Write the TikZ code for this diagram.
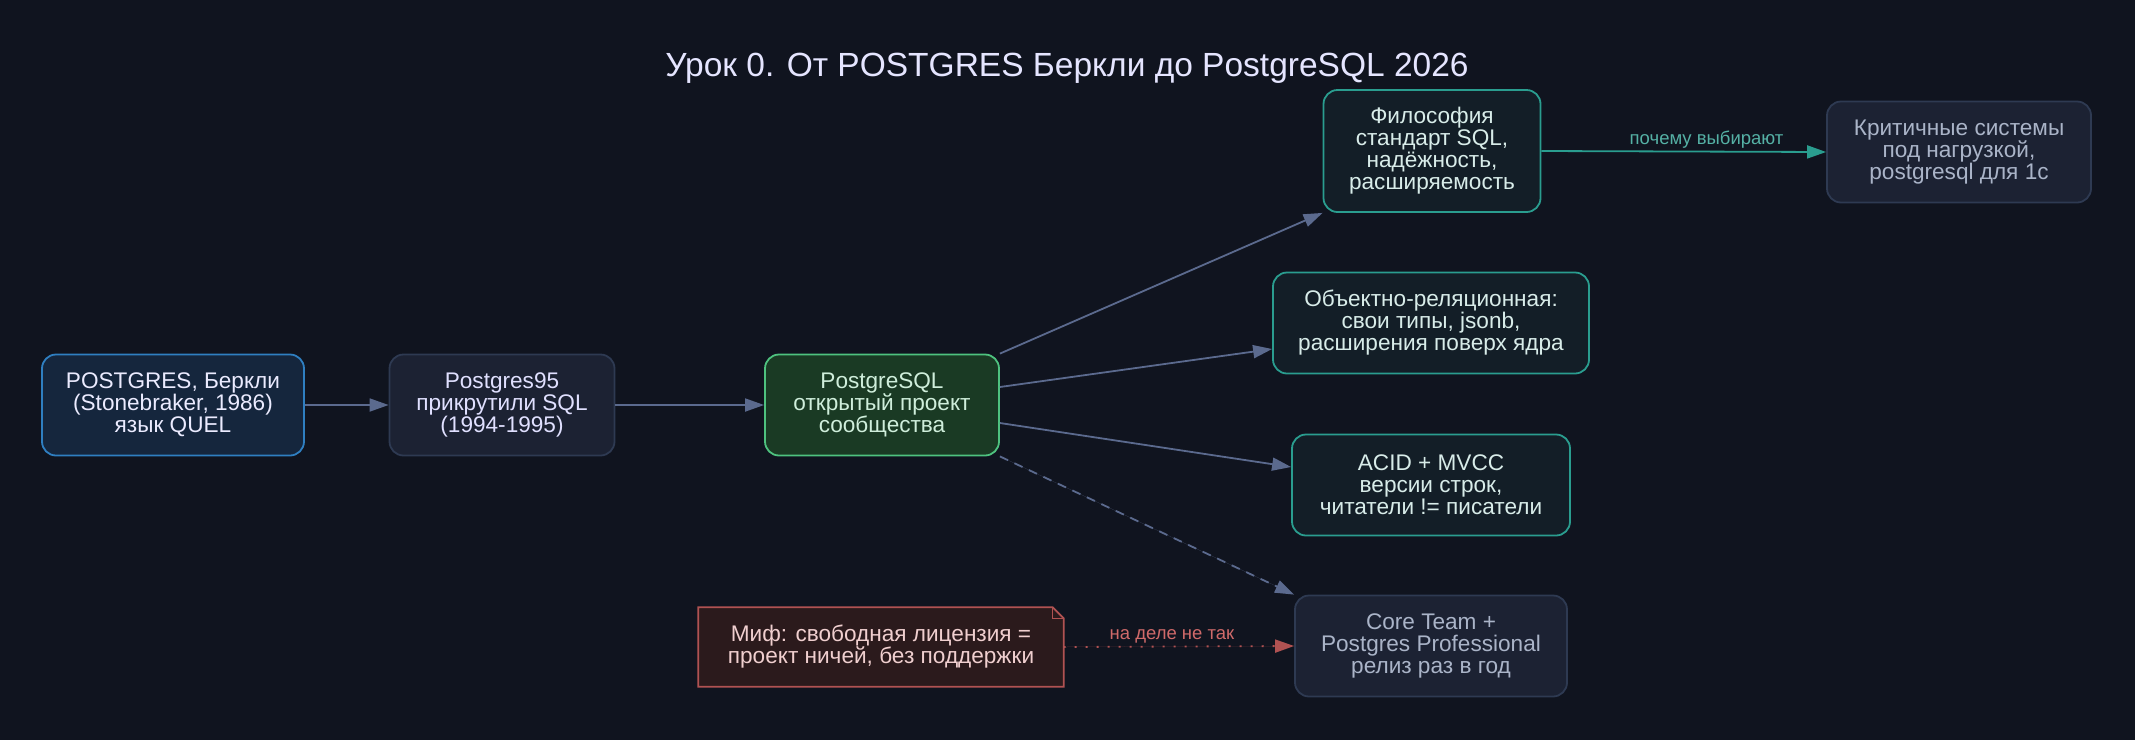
\documentclass[tikz,border=0pt]{standalone}
\usepackage{fontspec}
\setmainfont{Liberation Sans}
\usetikzlibrary{arrows.meta}
\definecolor{bgdark}{HTML}{10141F}
\definecolor{edgegrey}{HTML}{5B6A8E}
\definecolor{tealline}{HTML}{2A9D8F}
\definecolor{tealfill}{HTML}{131E27}
\definecolor{tealtext}{HTML}{D8ECE9}
\definecolor{slatefill}{HTML}{1C2233}
\definecolor{slateline}{HTML}{2E3A52}
\definecolor{slatetext}{HTML}{AAB4C8}
\definecolor{bluefill}{HTML}{15263D}
\definecolor{blueline}{HTML}{2F7FC1}
\definecolor{greenfill}{HTML}{1A3A24}
\definecolor{greenline}{HTML}{4EC27F}
\definecolor{greentext}{HTML}{CFEEDB}
\definecolor{mythfill}{HTML}{2B1A1C}
\definecolor{mythline}{HTML}{B05252}
\definecolor{mythtext}{HTML}{F0CFCF}
\definecolor{mythlabel}{HTML}{D06A6A}
\begin{document}
\begin{tikzpicture}[x=1pt,y=-1pt,>={Triangle[length=19pt,width=13pt]},
  box/.style={rounded corners=14pt,line width=1.8pt,align=center,inner sep=0pt,
    minimum height=101pt,font=\fontsize{22.6}{22}\selectfont},
  bluebox/.style={box,draw=blueline,fill=bluefill,text=white!92!blue},
  slatebox/.style={box,draw=slateline,fill=slatefill,text=white!88!blue},
  greybox/.style={box,draw=slateline,fill=slatefill,text=slatetext},
  greenbox/.style={box,draw=greenline,fill=greenfill,text=greentext},
  tealbox/.style={box,draw=tealline,fill=tealfill,text=tealtext},
  edge/.style={->,draw=edgegrey,fill=edgegrey,line width=1.8pt},
  elabel/.style={font=\fontsize{18.5}{20}\selectfont,inner sep=2pt}]
\fill[bgdark] (0,0) rectangle (2135,740);
\useasboundingbox (0,0) rectangle (2135,740);
\node[text=white!90!blue,font=\fontsize{33.5}{38}\selectfont] (title) at (1067,68)
  {Урок 0. От POSTGRES Беркли до PostgreSQL 2026};
% timeline
\node[bluebox,minimum width=262pt] (berkeley) at (173,405)
  {POSTGRES, Беркли\\(Stonebraker, 1986)\\язык QUEL};
\node[slatebox,minimum width=225pt] (pg95) at (502,405)
  {Postgres95\\прикрутили SQL\\(1994-1995)};
\node[greenbox,minimum width=234pt] (pgsql) at (882,405)
  {PostgreSQL\\открытый проект\\сообщества};
% traits
\node[tealbox,minimum width=217pt,minimum height=122pt] (philo) at (1432,151)
  {Философия\\стандарт SQL,\\надёжность,\\расширяемость};
\node[greybox,minimum width=264pt] (critical) at (1959,152)
  {Критичные системы\\под нагрузкой,\\postgresql для 1с};
\node[tealbox,minimum width=316pt] (objrel) at (1431,323)
  {Объектно-реляционная:\\свои типы, jsonb,\\расширения поверх ядра};
\node[tealbox,minimum width=278pt] (mvcc) at (1431,485)
  {ACID + MVCC\\версии строк,\\читатели != писатели};
\node[greybox,minimum width=272pt] (core) at (1431,646)
  {Core Team +\\Postgres Professional\\релиз раз в год};
% myth note
\node[align=center,inner sep=0pt,minimum width=365pt,minimum height=79pt] (myth) at (881,647) {};
\filldraw[draw=mythline,fill=mythfill,line width=1.8pt]
  (myth.north west) -- ([xshift=-11pt]myth.north east) -- ([yshift=-11pt]myth.north east)
  -- (myth.south east) -- (myth.south west) -- cycle;
\draw[mythline,line width=1.4pt] ([xshift=-11pt]myth.north east)
  -- ([xshift=-11pt,yshift=-11pt]myth.north east) -- ([yshift=-11pt]myth.north east);
\node[align=center,inner sep=0pt,text=mythtext,font=\fontsize{22.6}{22}\selectfont]
  (mythtxt) at (myth.center) {Миф: свободная лицензия =\\проект ничей, без поддержки};
% edges
\draw[edge] (berkeley.east) -- (pg95.west);
\draw[edge] (pg95.east) -- (pgsql.west);
\draw[edge] (pgsql.north east) -- (philo.south west);
\draw[edge] ([yshift=18pt]pgsql.east) -- ([yshift=-26pt]objrel.west);
\draw[edge] ([yshift=-18pt]pgsql.east) -- ([yshift=18pt]mvcc.west);
\draw[edge,dash pattern=on 9pt off 7pt] (pgsql.south east) -- (core.north west);
\draw[edge,draw=tealline,fill=tealline] (philo.east) --
  node[elabel,above,pos=0.58,text=tealline!80!white] {почему выбирают} (critical.west);
\draw[edge,draw=mythline,fill=mythline,dash pattern=on 2pt off 9pt] (myth.east) --
  node[elabel,above,pos=0.47,text=mythlabel] {на деле не так} (core.west);
\end{tikzpicture}
\end{document}
